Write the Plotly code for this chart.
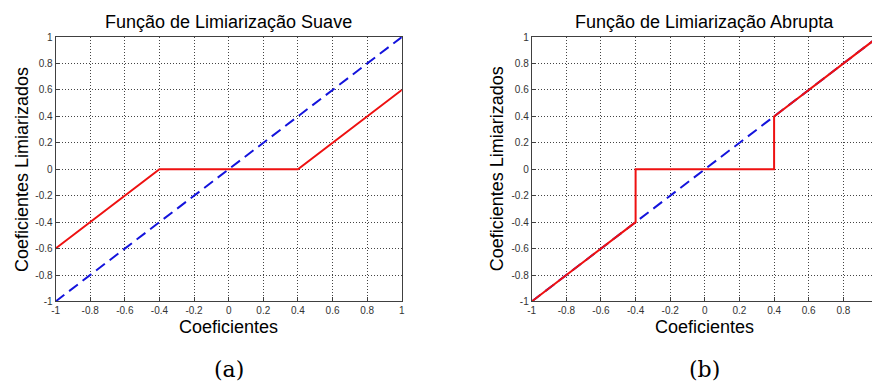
import plotly.graph_objects as go

# ---- data ----
x_identity = [-1, 1]
y_identity = [-1, 1]

x_soft = [-1, -0.4, 0.4, 1]
y_soft = [-0.6, 0, 0, 0.6]

x_hard = [-1, -0.4, -0.4, 0.4, 0.4, 1]
y_hard = [-1, -0.4, 0, 0, 0.4, 1]

tick_vals = [-1, -0.8, -0.6, -0.4, -0.2, 0, 0.2, 0.4, 0.6, 0.8, 1]
tick_text = ["-1", "-0.8", "-0.6", "-0.4", "-0.2", "0", "0.2", "0.4", "0.6", "0.8", "1"]

title_a = "Função de Limiarização Suave"
title_b = "Função de Limiarização Abrupta"
xlabel = "Coeficientes"
ylabel = "Coeficientes Limiarizados"
captions = ["(a)", "(b)"]

RED = "#ee1111"
BLUE = "#1414dc"

fig = go.Figure()
fig.add_trace(go.Scatter(x=x_identity, y=y_identity, mode="lines",
                         line=dict(color=BLUE, width=2, dash="11px,6px"),
                         xaxis="x", yaxis="y", showlegend=False))
fig.add_trace(go.Scatter(x=x_soft, y=y_soft, mode="lines",
                         line=dict(color=RED, width=2),
                         xaxis="x", yaxis="y", showlegend=False))
fig.add_trace(go.Scatter(x=x_identity, y=y_identity, mode="lines",
                         line=dict(color=BLUE, width=2, dash="11px,6px"),
                         xaxis="x2", yaxis="y2", showlegend=False))
fig.add_trace(go.Scatter(x=x_hard, y=y_hard, mode="lines",
                         line=dict(color=RED, width=2),
                         xaxis="x2", yaxis="y2", showlegend=False))

W, H = 875, 392
top_px, bot_px = 33, 305
yd = [1 - bot_px / H, 1 - top_px / H]
left_a, right_a = 52, 401
left_b = 532
unit = (right_a - left_a) / 2.0
xmax_b = -1 + (W - left_b) / unit

axis_common = dict(
    tickmode="array", tickvals=tick_vals, ticktext=tick_text,
    showgrid=True, gridcolor="#444444", griddash="1px,2px", gridwidth=1,
    zeroline=False, showline=True, linecolor="#404040", linewidth=1,
    ticks="inside", ticklen=4, tickcolor="#404040",
    tickfont=dict(family="Liberation Sans, Arial", size=10, color="#333333"),
)

fig.update_layout(
    width=W, height=H, margin=dict(l=0, r=0, t=0, b=0),
    paper_bgcolor="white", plot_bgcolor="white",
    xaxis=dict(domain=[left_a / W, right_a / W], range=[-1, 1], anchor="y",
               mirror=True, **axis_common),
    yaxis=dict(domain=yd, range=[-1, 1], anchor="x", mirror=True, **axis_common),
    xaxis2=dict(domain=[left_b / W, 1.0], range=[-1, xmax_b], anchor="y2",
                mirror=True, **axis_common),
    yaxis2=dict(domain=yd, range=[-1, 1], anchor="x2", mirror=False, **axis_common),
)

ann = []
font_lbl = dict(family="Liberation Sans, Arial", size=18, color="black")
centers = [(left_a + right_a) / 2, left_b + unit]
ylab_x = [18, 497]
for i, (cx, t) in enumerate(zip(centers, [title_a, title_b])):
    ann.append(dict(x=cx / W, y=1 - 17 / H, xref="paper", yref="paper", text=t,
                    showarrow=False, font=font_lbl, xanchor="center", yanchor="middle"))
    ann.append(dict(x=cx / W, y=1 - 331 / H, xref="paper", yref="paper", text=xlabel,
                    showarrow=False, font=font_lbl, xanchor="center", yanchor="middle"))
    ann.append(dict(x=ylab_x[i] / W, y=1 - 169 / H, xref="paper", yref="paper", text=ylabel,
                    showarrow=False, font=font_lbl, textangle=-90,
                    xanchor="center", yanchor="middle"))
    ann.append(dict(x=cx / W, y=1 - 375 / H, xref="paper", yref="paper", text=captions[i],
                    showarrow=False,
                    font=dict(family="DejaVu Serif, Liberation Serif", size=22, color="black"),
                    xanchor="center", yanchor="middle"))
fig.update_layout(annotations=ann)

fig.write_html("out.html")
